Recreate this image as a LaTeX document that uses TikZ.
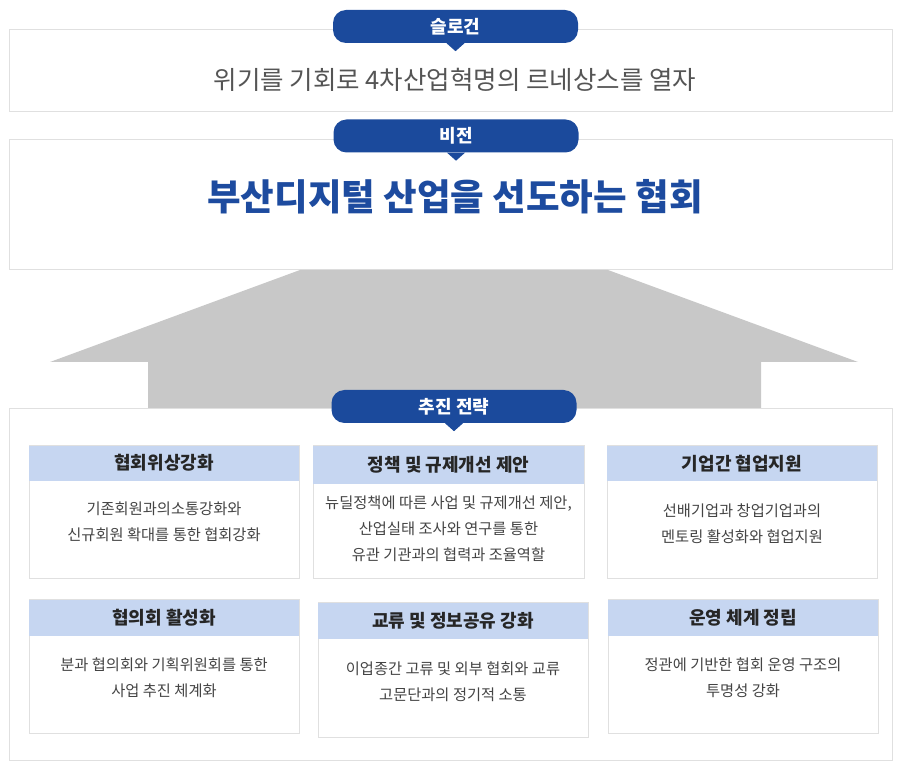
\documentclass[tikz,border=0pt]{standalone}
\usepackage{fontspec}
\setmainfont{Noto Sans CJK KR}
\usepackage{tikz}
\usetikzlibrary{positioning}
\definecolor{pillblue}{HTML}{1B4A9C}
\definecolor{visionblue}{HTML}{1D4B9F}
\definecolor{hdrblue}{HTML}{C6D6F1}
\definecolor{arrowgray}{HTML}{C8C8C8}
\definecolor{framegray}{HTML}{E0E0E0}
\definecolor{slogangray}{HTML}{555555}
\definecolor{bodygray}{HTML}{444444}
\tikzset{frame/.style = {draw=framegray,fill=white,line width=1pt,inner sep=0pt},
         pill/.style = {fill=pillblue,rounded corners=13pt,minimum width=245pt,minimum height=33pt,
                        text=white,font=\bfseries\fontsize{18}{20}\selectfont},
         hdr/.style = {fill=hdrblue,anchor=north,minimum width=270pt,inner sep=0pt,
                       text=black!85,font=\bfseries\fontsize{18}{20}\selectfont},
         bodytxt/.style = {align=center,text=bodygray,font=\fontsize{15.3}{26}\selectfont}}

\begin{document}
\begin{tikzpicture}[x=1pt,y=-1pt]
                    \useasboundingbox (0,0) rectangle (906,775);

                    % outer frames and the arrow behind them
                    \node [frame,minimum width=883pt,minimum height=82pt]  (slogan) at (450.5,71)  {};
                    \node [frame,minimum width=883pt,minimum height=130pt] (vision) at (450.5,205) {};
                    \fill [arrowgray] (300,270) -- (608,270) -- (858,362) -- (761,362) -- (761,409)
                                   -- (148,409) -- (148,362) -- (50,362) -- cycle;
                    \node [frame,minimum width=883pt,minimum height=351pt] (strategy) at (450.5,584.5) {};

                    % titles
                    \node [pill] (p1) at (455.5,26.5) {슬로건};
                    \node [pill] (p2) at (456,136)    {비전};
                    \node [pill] (p3) at (454,406.5)  {추진 전략};
                    \fill [pillblue] ([xshift=-9pt]p1.south) -- ([xshift=9pt]p1.south) -- ([yshift=-8pt]p1.south) -- cycle;
                    \fill [pillblue] ([xshift=-9pt]p2.south) -- ([xshift=9pt]p2.south) -- ([yshift=-8pt]p2.south) -- cycle;
                    \fill [pillblue] ([xshift=-9pt]p3.south) -- ([xshift=9pt]p3.south) -- ([yshift=-8pt]p3.south) -- cycle;

                    \node [text=slogangray,font=\fontsize{25.5}{30}\selectfont] (slogantxt) at (455,80)
                          {위기를 기회로 4차산업혁명의 르네상스를 열자};
                    \node [text=visionblue,font=\bfseries\fontsize{36.5}{42}\selectfont] (visiontxt) at (455,197)
                          {부산디지털 산업을 선도하는 협회};

                    % strategy cards
                    \node [frame,minimum width=270pt,minimum height=133pt] (c1) at (164,512.5)   {};
                    \node [frame,minimum width=271pt,minimum height=133pt] (c2) at (448.5,512.5) {};
                    \node [frame,minimum width=270pt,minimum height=133pt] (c3) at (742,512.5)   {};
                    \node [frame,minimum width=270pt,minimum height=133pt] (c4) at (164,666.5)   {};
                    \node [frame,minimum width=270pt,minimum height=134pt] (c5) at (453,670)     {};
                    \node [frame,minimum width=270pt,minimum height=133pt] (c6) at (743,666.5)   {};

                    \node [hdr,minimum height=35pt] (h1) at (c1.north) {협회위상강화};
                    \node [hdr,minimum height=38pt,minimum width=271pt] (h2) at (c2.north) {정책 및 규제개선 제안};
                    \node [hdr,minimum height=35pt] (h3) at (c3.north) {기업간 협업지원};
                    \node [hdr,minimum height=36pt] (h4) at (c4.north) {협의회 활성화};
                    \node [hdr,minimum height=36pt] (h5) at (c5.north) {교류 및 정보공유 강화};
                    \node [hdr,minimum height=36pt] (h6) at (c6.north) {운영 체계 정립};

                    \node [bodytxt] (t1) at (164,521.5) {기존회원과의소통강화와\\신규회원 확대를 통한 협회강화};
                    \node [bodytxt] (t2) at (448.5,529) {뉴딜정책에 따른 사업 및 규제개선 제안,\\산업실태 조사와 연구를 통한\\유관 기관과의 협력과 조율역할};
                    \node [bodytxt] (t3) at (742,523.5) {선배기업과 창업기업과의\\멘토링 활성화와 협업지원};
                    \node [bodytxt] (t4) at (164,677.5) {분과 협의회와 기획위원회를 통한\\사업 추진 체계화};
                    \node [bodytxt] (t5) at (453,681.5) {이업종간 고류 및 외부 협회와 교류\\고문단과의 정기적 소통};
                    \node [bodytxt] (t6) at (743,677.5) {정관에 기반한 협회 운영 구조의\\투명성 강화};
                \end{tikzpicture}
\end{document}
